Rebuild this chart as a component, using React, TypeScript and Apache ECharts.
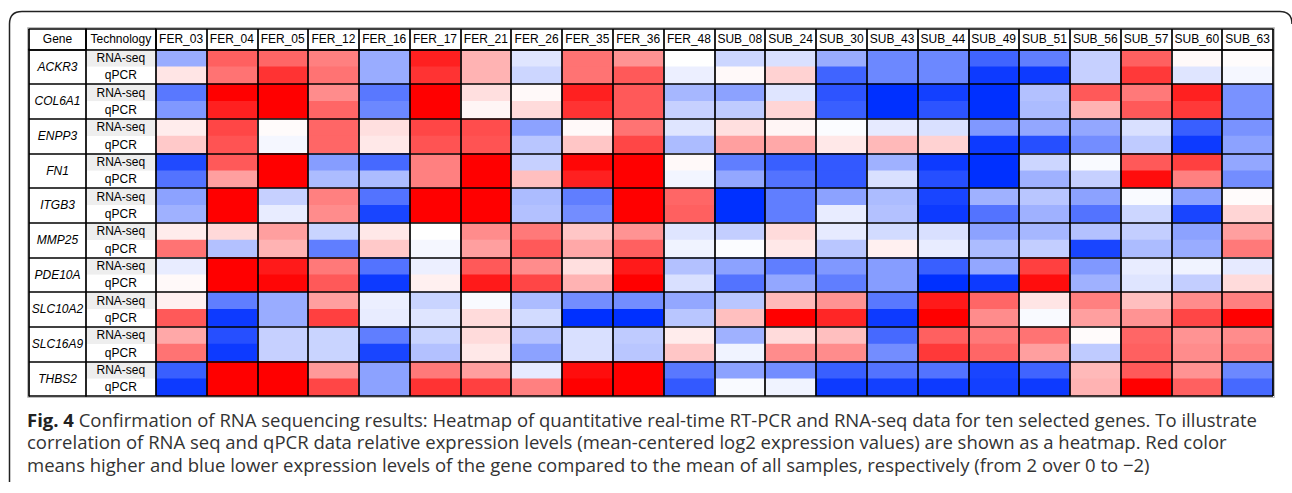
import React, { useEffect, useRef } from "react";
import * as echarts from "echarts";

const samples = [
  "FER_03", "FER_04", "FER_05", "FER_12", "FER_16", "FER_17", "FER_21", "FER_26", "FER_35", "FER_36", "FER_48",
  "SUB_08", "SUB_24", "SUB_30", "SUB_43", "SUB_44", "SUB_49", "SUB_51", "SUB_56", "SUB_57", "SUB_60", "SUB_63",
];
const genes = ["ACKR3", "COL6A1", "ENPP3", "FN1", "ITGB3", "MMP25", "PDE10A", "SLC10A2", "SLC16A9", "THBS2"];
const technologies = ["RNA-seq", "qPCR"];
const columnTitles = ["Gene", "Technology"];

// mean-centered log2 expression values, rows = genes, columns = samples
const rnaSeq = [
  [-0.8, 1.25, 1.2, 1.0, -0.8, 1.75, 0.6, -0.25, 1.1, 0.85, 0, -0.4, -0.3, -0.8, -1.15, -1.15, -1.5, -1.25, -0.45, 1.25, 0.05, 0.02],
  [-1.3, 2, 2, 0.9, -1.3, 2, 0.25, 0.05, 1.75, 1.3, -0.7, -0.9, -0.25, -1.65, -2, -1.85, -2, -0.6, 1.3, 1.05, 1.75, -1.05],
  [0.15, 1.45, 0.03, 1.2, 0.25, 1.45, 1.4, -0.9, 0.05, 1.1, -0.25, 0.25, 0.08, -0.03, -0.2, -0.3, -1.0, -0.85, -0.85, -0.3, -1.55, -1.05],
  [-1.75, 1.3, 2, -0.95, -1.45, 1.0, 2, -0.45, 1.95, 2, 0.05, -1.25, -1.55, -1.6, -0.75, -1.9, -2, -0.4, -0.05, 1.3, 1.5, -0.85],
  [-0.9, 2, -0.45, 1.0, -1.35, 2, 2, -0.65, -1.25, 2, 1.2, -2, -1.25, -0.9, -0.65, -1.8, -0.75, -0.55, -0.9, -0.05, -0.9, 0.03],
  [0.15, 0.3, 0.75, -0.42, 0.18, 0, 0.9, 1.05, 0.45, 0.85, -0.25, -0.47, 0.28, -0.2, -0.35, -0.3, -0.9, -0.7, -0.6, -0.47, -0.9, 0.75],
  [-0.18, 2, 1.8, 1.05, -1.35, -0.15, 1.3, 0.9, 0.25, 1.8, -0.6, -0.9, -1.25, -1.0, -0.95, -1.55, -0.85, 1.5, -1.0, -0.18, -0.12, -0.2],
  [0.12, -1.25, -0.8, 0.75, -0.15, -0.42, -0.05, -0.65, -1.1, -1.1, -0.85, -0.55, 0.55, 0.85, -1.3, 1.8, 1.2, 0.2, 1.0, 0.5, 0.9, 1.0],
  [0.68, -1.7, -0.45, -0.42, -1.25, -0.42, 0.28, -0.6, -0.3, -0.5, 0.15, -0.75, 0.28, 0.5, -1.45, 1.25, 1.05, 1.1, 0.03, 1.2, 0.85, 0.9],
  [-1.55, 2, 2, 0.8, -0.9, 1.05, 0.75, -0.2, 1.9, 2, -1.3, -0.9, -1.1, -1.55, -1.35, -1.35, -1.8, -1.5, 0.55, 1.3, 0.85, -1.15],
];
const qpcr = [
  [0.2, 1.1, 1.6, 1.1, -0.8, 1.6, 0.6, -0.4, 1.1, 1.3, -0.15, 0.05, 0.35, -1.5, -1.15, -1.15, -1.9, -1.9, -0.45, 1.55, -0.25, -0.08],
  [-1.0, 1.75, 2, 1.2, -1.15, 2, 0.08, 0.28, 1.6, 1.3, -0.45, -0.5, 0.33, -1.55, -2, -1.65, -2, -0.65, 0.6, 1.3, 1.55, -1.05],
  [0.42, 1.35, -0.08, 1.2, 0.18, 1.35, 1.35, -0.55, 0.45, 1.45, -0.65, 0.75, 0.68, 0.18, 0.55, 0.35, -1.9, -1.7, -1.1, -0.5, -1.9, -0.9],
  [-1.35, 0.75, 2, -0.65, -0.65, 1.0, 2, 0.5, 1.75, 2, -0.1, -0.85, -1.35, -1.6, -0.3, -1.7, -2, -0.75, -0.45, 1.9, 1.0, -1.1],
  [-0.75, 2, -0.18, 0.9, -1.8, 2, 2, -0.6, -1.1, 2, 1.25, -2, -1.25, -0.18, -0.6, -1.9, -1.35, -0.75, -1.35, -0.4, -1.8, 0.33],
  [1.1, -0.6, 0.6, -1.25, 0.42, -0.08, 0.75, 1.3, 0.68, 1.25, -0.12, -0.03, 0.18, -0.55, 0.12, -0.18, -0.65, -0.47, -1.8, -0.65, -0.8, 1.05],
  [0.05, 2, 1.95, 1.3, -1.9, 0.12, 1.8, 1.45, 0.6, 2, -0.3, -1.35, -0.85, -1.25, -0.95, -2, -1.9, 1.9, -0.75, -0.25, -0.47, 0.28],
  [1.3, -1.9, -0.8, 1.5, -0.18, -0.25, 0.28, -0.35, -2, -2, -0.55, 0.5, 2, 1.7, -1.9, 2, 0.9, -0.05, 0.75, 0.85, 1.45, 2],
  [1.1, -1.9, -0.45, -0.42, -1.8, -0.6, 0.18, -0.9, -0.3, -0.55, 0.45, -0.12, 0.9, 0.9, -1.1, 1.55, 1.2, 0.75, -0.5, 1.25, 0.9, 1.0],
  [-1.9, 2, 2, 1.45, -0.9, 1.6, 1.5, 1.0, 2, 2, -1.6, -0.05, -0.12, -1.9, -1.85, -1.9, -1.85, -1.9, 0.6, 2, 1.25, -1.45],
];

const captionLines = [
  "{b|Fig. 4} Confirmation of RNA sequencing results: Heatmap of quantitative real-time RT-PCR and RNA-seq data for ten selected genes. To illustrate",
  "correlation of RNA seq and qPCR data relative expression levels (mean-centered log2 expression values) are shown as a heatmap. Red color",
  "means higher and blue lower expression levels of the gene compared to the mean of all samples, respectively (from 2 over 0 to \u22122)",
];

echarts.graphic.registerShape(
  "figframe",
  echarts.graphic.extendPath("M9.5 482 L9.5 24 Q9.5 11.5 22 11.5 L1280 11.5 Q1292 11.5 1292 24", {})
);

export default function App() {
  const ref = useRef<HTMLDivElement>(null);
  useEffect(() => {
    document.body.style.margin = "0";
    if (!ref.current) return;
    const chart = echarts.init(ref.current, null, { renderer: "svg" });

    const L = 29, GENE_R = 86, TECH_R = 155.7, R = 1273, HT = 29, TOP = 49.3, BOT = 396;
    const font = "Liberation Sans";
    const lineStyle = { color: "#000", width: 1.7 };
    const headerLabel = {
      show: true, interval: 0, fontFamily: font, fontSize: 12, color: "#000",
      margin: (TOP - HT) / 2, verticalAlign: "middle",
    };
    const headerTick = { show: true, interval: 0, length: TOP - HT, lineStyle };

    const rowKeys = genes.flatMap((g) => technologies.map((t) => `${g}|${t}`));
    const heatData: number[][] = [];
    genes.forEach((_, gi) => {
      samples.forEach((_, si) => {
        heatData.push([si, gi * 2, rnaSeq[gi][si]]);
        heatData.push([si, gi * 2 + 1, qpcr[gi][si]]);
      });
    });

    const headerAxis = (gridIndex: number, data: string[], extra: any = {}) => ({
      gridIndex, type: "category", data, position: "top",
      axisLine: { show: true, lineStyle }, axisTick: headerTick, axisLabel: headerLabel,
      splitLine: { show: false }, ...extra,
    });
    const topBorder = (gridIndex: number, data: string[]) => ({
      gridIndex, type: "category", data, position: "top", offset: TOP - HT,
      axisLine: { show: true, lineStyle }, axisTick: { show: false }, axisLabel: { show: false },
      splitLine: { show: false },
    });
    const evenSplit = (i: number) => i % 2 === 0;

    chart.setOption({
      animation: false,
      backgroundColor: "#fff",
      grid: [
        { left: L, top: TOP, width: GENE_R - L, height: BOT - TOP },
        { left: GENE_R, top: TOP, width: TECH_R - GENE_R, height: BOT - TOP },
        { left: TECH_R, top: TOP, width: R - TECH_R, height: BOT - TOP },
      ],
      xAxis: [
        headerAxis(0, [columnTitles[0]]),
        headerAxis(1, [columnTitles[1]]),
        headerAxis(2, samples, { splitLine: { show: true, interval: 0, lineStyle }, z: 5 }),
        topBorder(0, [columnTitles[0]]),
        topBorder(1, [columnTitles[1]]),
        topBorder(2, samples),
      ],
      yAxis: [
        {
          gridIndex: 0, type: "category", data: genes, inverse: true,
          axisLine: { show: true, lineStyle }, axisTick: { show: false },
          axisLabel: {
            inside: true, interval: 0, margin: (GENE_R - L) / 2, align: "center",
            fontStyle: "italic", fontFamily: font, fontSize: 12, color: "#000",
          },
          splitLine: { show: true, interval: 0, lineStyle }, z: 5,
        },
        {
          gridIndex: 1, type: "category", data: rowKeys, inverse: true,
          axisLine: { show: true, lineStyle }, axisTick: { show: false },
          axisLabel: {
            inside: true, interval: 0, margin: (TECH_R - GENE_R) / 2, align: "center",
            fontFamily: font, fontSize: 12, color: "#000",
            formatter: (v: string) => v.split("|")[1],
          },
          splitArea: { show: true, interval: 0, areaStyle: { color: ["#eeeeee", "#ffffff"] } },
          splitLine: { show: true, interval: evenSplit, lineStyle }, z: 5,
        },
        {
          gridIndex: 2, type: "category", data: rowKeys, inverse: true,
          axisLine: { show: false }, axisTick: { show: false }, axisLabel: { show: false },
          splitLine: { show: true, interval: evenSplit, lineStyle }, z: 5,
        },
      ],
      visualMap: {
        type: "continuous", min: -2, max: 2, show: false, dimension: 2, seriesIndex: 0,
        inRange: { color: ["#0030ff", "#ffffff", "#ff0000"] },
      },
      series: [
        {
          type: "heatmap", xAxisIndex: 2, yAxisIndex: 2, data: heatData,
          itemStyle: { borderWidth: 0 }, emphasis: { disabled: true },
        },
      ],
      graphic: [
        { type: "figframe", x: 0, y: 0, style: { stroke: "#222", fill: "none", lineWidth: 1.5 } },
        {
          type: "rect", shape: { x: 27.5, y: 27.5, width: R - 27.5 + 1.5, height: BOT - 27.5 + 1.5 },
          style: { stroke: "#bdbdbd", fill: "none", lineWidth: 1 }, z: -1,
        },
        ...captionLines.map((t, i) => ({
          type: "text", x: 27, y: 419 + i * 22.5,
          style: {
            text: t, fontFamily: "Open Sans", fontSize: 18.5, fill: "#333", verticalAlign: "middle",
            rich: { b: { fontFamily: "Open Sans", fontSize: 18.5, fontWeight: "bold", fill: "#222" } },
          },
        })),
      ],
    });
    return () => chart.dispose();
  }, []);
  return <div ref={ref} style={{ width: 1292, height: 493 }} />;
}
